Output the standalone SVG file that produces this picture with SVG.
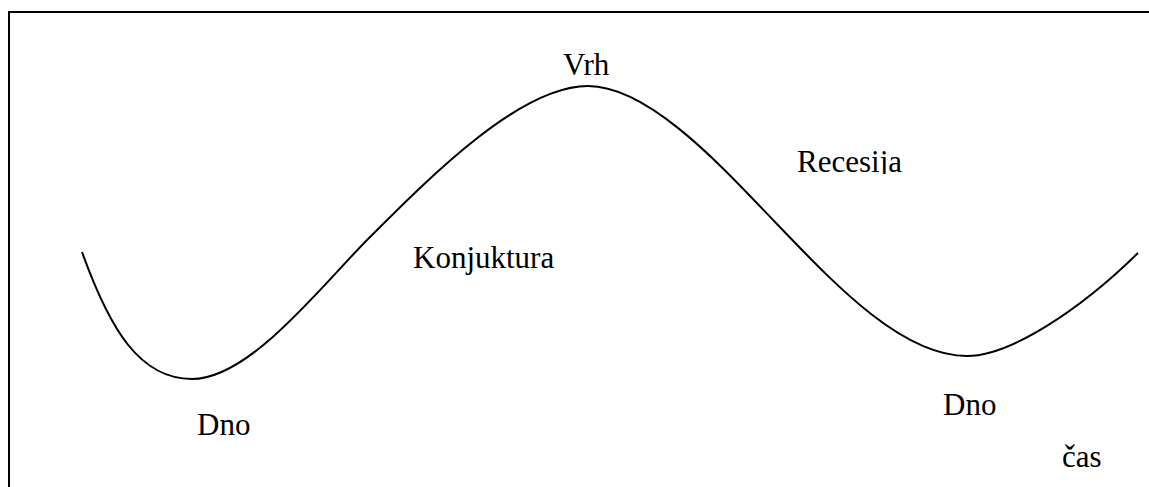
<svg xmlns="http://www.w3.org/2000/svg" width="1149" height="487" viewBox="0 0 1149 487">
<style>
text{font-family:"Liberation Serif","Times New Roman",Tinos,serif;font-size:31px;fill:#000}
.frame{stroke:#000;stroke-width:2;fill:none}
.curve{stroke:#000;stroke-width:2;fill:none}
</style>
<defs>
<clipPath id="recClip"><rect x="780" y="130" width="160" height="44"/></clipPath>
</defs>
<rect width="1149" height="487" fill="#fff"/>
<g id="frame">
<path class="frame" d="M9 487 V12 H1149"/>
</g>
<g id="connectors">
<path id="cycle" class="curve" d="M82 252 C110 330 140 379 192 379 C250 379 320 287 370 237 C430 177 520 86 588 86 C650 86 725 170 775 222 C830 279 900 356 967 356 C1010 356 1080 310 1138 253"/>
</g>
<g id="vrh"><text x="563" y="75">Vrh</text></g>
<g id="recesija"><text x="797" y="172" clip-path="url(#recClip)">Recesija</text></g>
<g id="konjuktura"><text x="413" y="268">Konjuktura</text></g>
<g id="dno1"><text x="197" y="435">Dno</text></g>
<g id="dno2"><text x="943" y="415">Dno</text></g>
<g id="cas"><text x="1062" y="467">čas</text></g>
</svg>
